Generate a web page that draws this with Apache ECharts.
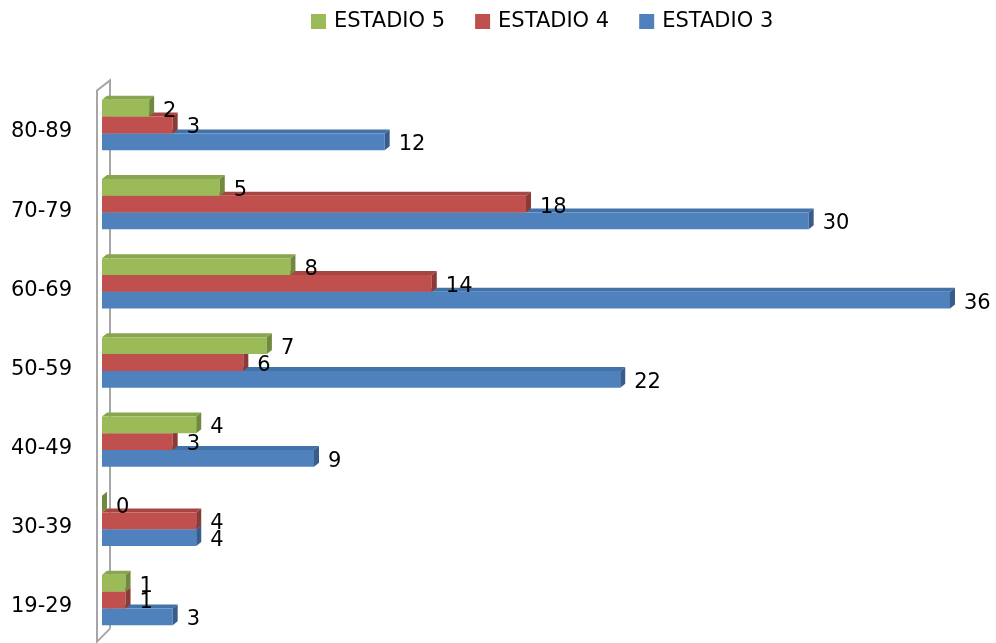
<!DOCTYPE html>
<html>
<head>
<meta charset="utf-8">
<script src="https://cdn.jsdelivr.net/npm/echarts@6/dist/echarts.min.js"></script>
<style>
  html, body { margin: 0; padding: 0; background: #fff; }
  #chart { width: 996px; height: 643px; }
</style>
</head>
<body>
<div id="chart"></div>
<script>
// Age groups, bottom to top
const categories = ['19-29', '30-39', '40-49', '50-59', '60-69', '70-79', '80-89'];
const estadio3 = [3, 4, 9, 22, 36, 30, 12];
const estadio4 = [1, 4, 3, 6, 14, 18, 3];
const estadio5 = [1, 0, 4, 7, 8, 5, 2];
const legendOrder = ['ESTADIO 5', 'ESTADIO 4', 'ESTADIO 3'];

const FONT = '"DejaVu Sans", sans-serif';
const GRID = { left: 102, right: 46, top: 85.4, bottom: 3.4 };

// Extruded bar: front face, top face, right side face plus value label
function barRenderer(slot, colors) {
  return function (params, api) {
    const v = api.value(0);
    const c = api.value(1);
    const start = api.coord([0, c]);
    const end = api.coord([v, c]);
    const band = api.size([0, 1])[1];
    const h = band * 0.212;
    const cy = start[1] + slot * h;
    const y0 = cy - h / 2, y1 = cy + h / 2;
    const x0 = start[0], x1 = end[0];
    const dx = 5, dy = 4;
    return {
      type: 'group',
      children: [
        { type: 'polygon', shape: { points: [[x0, y0], [x1, y0], [x1 + dx, y0 - dy], [x0 + dx, y0 - dy]] },
          style: { fill: colors.top } },
        { type: 'rect', shape: { x: x0, y: y0, width: x1 - x0, height: h },
          style: { fill: colors.front } },
        { type: 'polygon', shape: { points: [[x1, y0], [x1 + dx, y0 - dy], [x1 + dx, y1 - dy], [x1, y1]] },
          style: { fill: colors.side } },
        { type: 'text', x: x1 + 14, y: cy + 3, z2: 10,
          style: { text: String(v), fill: '#000', fontSize: 21, fontFamily: FONT,
                   align: 'left', verticalAlign: 'middle' } }
      ]
    };
  };
}

function toData(arr) { return arr.map((v, i) => [v, i]); }

const palette = {
  'ESTADIO 3': { front: '#4F81BD', top: '#4372A8', side: '#385D8A' },
  'ESTADIO 4': { front: '#C0504D', top: '#A64542', side: '#8C3A38' },
  'ESTADIO 5': { front: '#9BBB59', top: '#88A64D', side: '#71893F' }
};

function makeSeries(name, values, slot) {
  return {
    name: name,
    type: 'custom',
    renderItem: barRenderer(slot, palette[name]),
    encode: { x: 0, y: 1 },
    data: toData(values),
    clip: false,
    itemStyle: { color: palette[name].front }
  };
}

const chart = echarts.init(document.getElementById('chart'), null, { renderer: 'canvas' });

const gLeft = GRID.left, gTop = GRID.top, gBottom = 643 - GRID.bottom;

chart.setOption({
  animation: false,
  backgroundColor: '#fff',
  legend: {
    data: legendOrder,
    left: 306,
    top: 6,
    itemWidth: 15,
    itemHeight: 15,
    itemGap: 30,
    icon: 'rect',
    textStyle: { fontSize: 21, fontFamily: FONT, color: '#000', padding: [0, 0, 0, 3] }
  },
  grid: { left: GRID.left, right: GRID.right, top: GRID.top, bottom: GRID.bottom },
  xAxis: {
    type: 'value', min: 0, max: 36,
    show: false
  },
  yAxis: {
    type: 'category',
    data: categories,
    axisLine: { show: false },
    axisTick: { show: false },
    splitLine: { show: false },
    axisLabel: {
      fontSize: 21, fontFamily: FONT, color: '#000', margin: 30,
      verticalAlign: 'top', lineHeight: 14
    }
  },
  graphic: [{
    type: 'polyline',
    z: 0,
    shape: { points: [[gLeft + 8, gBottom - 11], [gLeft - 5, gBottom + 2], [gLeft - 5, gTop + 5],
                      [gLeft + 8, gTop - 5], [gLeft + 8, gBottom - 11]] },
    style: { stroke: '#A6A6A6', lineWidth: 2, fill: null }
  }],
  series: [
    makeSeries('ESTADIO 3', estadio3, 1),
    makeSeries('ESTADIO 4', estadio4, 0),
    makeSeries('ESTADIO 5', estadio5, -1)
  ]
});
</script>
</body>
</html>
